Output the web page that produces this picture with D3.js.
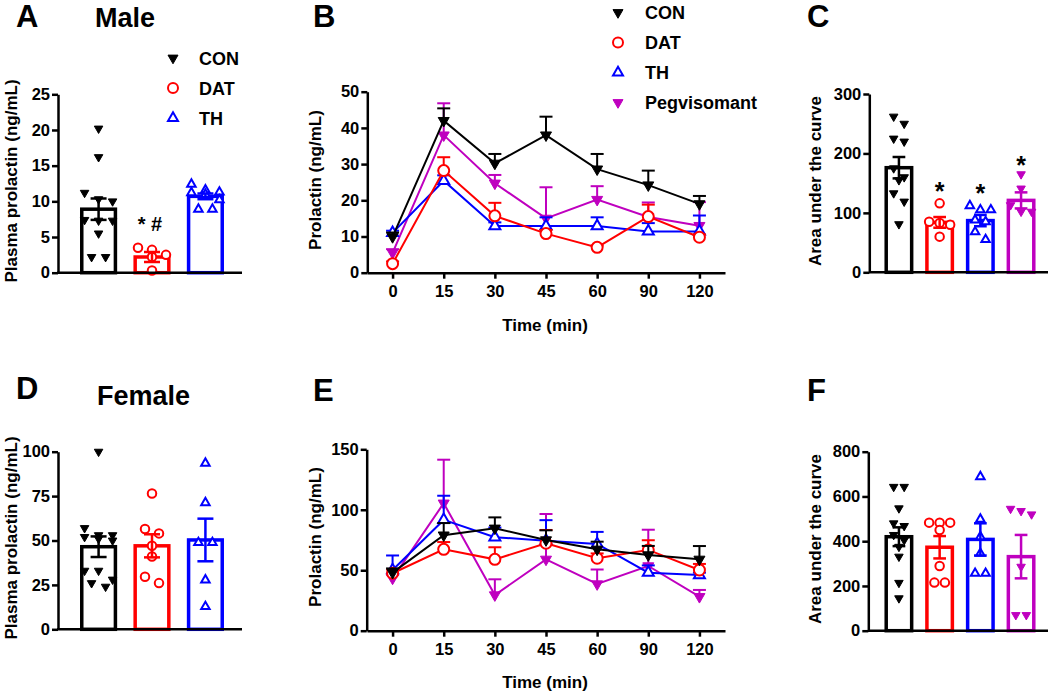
<!DOCTYPE html>
<html><head><meta charset="utf-8">
<script src="https://cdn.jsdelivr.net/npm/d3@7"></script>
<style>body{margin:0;background:#fff;} svg{display:block;}</style>
</head><body><svg id="c" width="1050" height="691"></svg>
<script>
// ---------- data ----------
const groups3 = ["CON", "DAT", "TH"];
const groups4 = ["CON", "DAT", "TH", "Pegvisomant"];
const times = ["0", "15", "30", "45", "60", "90", "120"];

// Panel A (male plasma prolactin)
const aCON = [20.2, 16.2, 11.2, 10.3, 10.0, 7.4, 7.3, 7.3, 5.5, 2.2, 2.2];
const aDAT = [3.5, 3.2, 2.5, 2.2, 0.3];
const aTH = [12.4, 11.6, 11.3, 11.2, 11.0, 10.2, 8.9, 8.9];
const aMean = [8.9, 2.2, 10.7];
const aSem = [1.5, 0.7, 0.4];
const aTicks = [0, 5, 10, 15, 20, 25];

// Panel B (male time course)
const bCON = [9.9, 42, 30.2, 38, 28.6, 24.2, 19];
const bDAT = [2.5, 28.2, 15.7, 10.8, 7, 15.5, 9.8];
const bTH = [11, 25.4, 12.9, 12.9, 12.9, 11.4, 11.4];
const bPEG = [5.5, 38, 24.7, 15, 20.2, 15.4, 13];
const bCONsem = [1.2, 3.4, 2.6, 5.1, 4.2, 4, 2.2];
const bDATsem = [0.6, 3.7, 3.6, 1, 0.5, 3.3, 0.8];
const bTHsem = [0.6, 1.5, 1, 2.4, 2.4, 2.3, 4.4];
const bPEGsem = [1, 8.8, 2.3, 8.6, 3.7, 4, 6.5];
const bTicks = [0, 10, 20, 30, 40, 50];

// Panel C (male AUC)
const cCON = [262, 250, 225, 220, 175, 160, 155, 133, 119, 81];
const cDAT = [116, 85, 83, 80, 60];
const cTH = [112, 105, 105, 88, 85, 68, 55];
const cPEG = [165, 141, 113, 102, 102];
const cMean = [176, 84, 87, 121];
const cSem = [18, 9, 9.5, 13.5];
const cTicks = [0, 100, 200, 300];

// Panel D (female plasma prolactin)
const dCON = [100, 57, 53, 53, 52, 51, 50, 33, 33, 28, 26, 24];
const dDAT = [76.5, 56.5, 54, 47, 41, 29.6, 26];
const dTH = [93.5, 71.3, 48.8, 48.8, 27.8, 12.8];
const dMean = [46.5, 47, 50.3];
const dSem = [5.8, 6.5, 12];
const dTicks = [0, 25, 50, 75, 100];

// Panel E (female time course)
const eCON = [48, 79, 84.7, 75, 67.3, 62.6, 59];
const eDAT = [47.5, 67.3, 59, 72.3, 59.9, 66.8, 50.2];
const eTH = [50.2, 91.6, 77.3, 74.4, 71.7, 48, 46];
const ePEG = [43.3, 105.4, 29.5, 59, 38.6, 53.5, 28.1];
const eCONsem = [3.5, 10, 9, 8, 6.3, 7.5, 11];
const eDATsem = [3, 6, 10, 11, 4, 8, 5];
const eTHsem = [12, 20, 8, 17, 10, 6, 2];
const ePEGsem = [3, 36, 13, 37.5, 12, 30, 5.6];
const eTicks = [0, 50, 100, 150];

// Panel F (female AUC)
const fCON = [643, 643, 547, 480, 468, 428, 405, 375, 331, 214, 145];
const fDAT = [483, 483, 483, 450, 289, 215, 215];
const fTH = [688, 498, 420, 346, 256, 256];
const fPEG = [545, 535, 520, 286, 70, 70];
const fMean = [420, 373, 408, 331];
const fSem = [42, 50, 72, 97];
const fTicks = [0, 200, 400, 600, 800];

// ---------- style ----------
const FONT = '"Liberation Sans", Arial, Helvetica, sans-serif';
const colors = {CON: "#000000", DAT: "#ff0000", TH: "#0000ff", Pegvisomant: "#bf00bf"};
const shapes = {CON: "down", DAT: "circle", TH: "up", Pegvisomant: "down"};
const filled = {CON: true, DAT: false, TH: false, Pegvisomant: true};

const svg = d3.select("#c");

function marker(g, name, x, y, sz) {
  const c = colors[name];
  if (shapes[name] === "circle") {
    g.append("circle").attr("cx", x).attr("cy", y).attr("r", sz * 0.5)
      .attr("fill", "#fff").attr("stroke", c).attr("stroke-width", 2);
  } else {
    const area = Math.sqrt(3) / 4 * sz * sz;
    g.append("path").attr("d", d3.symbol(d3.symbolTriangle, area)())
      .attr("transform", `translate(${x},${y}) rotate(${shapes[name] === "down" ? 180 : 0})`)
      .attr("fill", filled[name] ? c : "#fff").attr("stroke", c)
      .attr("stroke-width", filled[name] ? 1 : 2).attr("stroke-linejoin", "miter");
  }
}

function styleAxis(g) {
  g.selectAll("path,line").attr("stroke", "#000").attr("stroke-width", 2.5);
  g.selectAll("text").attr("font-size", 16.5).attr("font-weight", "bold")
    .attr("font-family", FONT).attr("fill", "#000");
}

function text(x, y, s, size, opts = {}) {
  const t = svg.append("text").attr("x", x).attr("y", y).text(s)
    .attr("font-family", FONT).attr("font-weight", "bold").attr("font-size", size).attr("fill", opts.fill || "#000");
  if (opts.anchor) t.attr("text-anchor", opts.anchor);
  if (opts.rotate) t.attr("transform", `rotate(-90,${x},${y})`).attr("dominant-baseline", "central").attr("text-anchor", "middle");
  return t;
}

function swarm(vals, y, cx, spacing, thresh) {
  const sorted = vals.map(v => ({v, py: y(v)})).sort((a, b) => a.py - b.py);
  const rows = []; let cur = [];
  sorted.forEach(p => {
    if (cur.length && (p.py - cur[0].py > thresh || cur.length >= 3)) { rows.push(cur); cur = []; }
    cur.push(p);
  });
  if (cur.length) rows.push(cur);
  const out = [];
  rows.forEach(r => r.forEach((p, k) => out.push({x: cx + (k - (r.length - 1) / 2) * spacing, y: p.py})));
  return out;
}

function barPanel(cfg) {
  const {groups, points, mean, sem, y, ticks, axisX, xr, band, msz, spacing} = cfg;
  const x = d3.scaleBand().domain(groups).range(band.range).paddingInner(band.pi).paddingOuter(band.po);
  const bw = x.bandwidth();
  const g = svg.append("g");
  groups.forEach((name, i) => {
    const c = colors[name];
    g.append("rect").attr("x", x(name)).attr("y", y(mean[i])).attr("width", bw)
      .attr("height", y(0) - y(mean[i])).attr("fill", "#fff").attr("stroke", c).attr("stroke-width", 3.5);
  });
  groups.forEach((name, i) => {
    const cx = x(name) + bw / 2;
    swarm(points[i], y, cx, spacing, 9).forEach(p => marker(g, name, p.x, p.y, msz));
  });
  groups.forEach((name, i) => {
    const c = colors[name];
    const cx = x(name) + bw / 2;
    const capW = Math.min(16, bw * 0.5);
    const y1 = y(mean[i] - sem[i]), y2 = y(mean[i] + sem[i]);
    g.append("line").attr("x1", cx).attr("x2", cx).attr("y1", y1).attr("y2", y2).attr("stroke", c).attr("stroke-width", 2.5);
    [y1, y2].forEach(yy => g.append("line").attr("x1", cx - capW / 2).attr("x2", cx + capW / 2)
      .attr("y1", yy).attr("y2", yy).attr("stroke", c).attr("stroke-width", 2.5));
  });
  svg.append("line").attr("x1", xr[0]).attr("x2", xr[1]).attr("y1", y(0)).attr("y2", y(0))
    .attr("stroke", "#000").attr("stroke-width", 2.5);
  const ax = svg.append("g").attr("transform", `translate(${axisX},0)`)
    .call(d3.axisLeft(y).tickValues(ticks).tickSize(6).tickSizeOuter(0).tickPadding(2));
  styleAxis(ax);
  return x;
}

function linePanel(cfg) {
  const {series, y, ticks, axisX} = cfg;
  const x = d3.scalePoint().domain(times).range([367, 725]).padding(0.5);
  const g = svg.append("g");
  const line = d3.line().x((d, i) => x(times[i])).y(d => y(d));
  series.forEach(s => {
    const c = colors[s.name];
    g.append("path").attr("d", line(s.mean)).attr("fill", "none").attr("stroke", c).attr("stroke-width", 2);
    s.mean.forEach((m, i) => {
      const cx = x(times[i]);
      const yt = y(m + s.sem[i]);
      g.append("line").attr("x1", cx).attr("x2", cx).attr("y1", y(m)).attr("y2", yt).attr("stroke", c).attr("stroke-width", 2);
      g.append("line").attr("x1", cx - 6.5).attr("x2", cx + 6.5).attr("y1", yt).attr("y2", yt).attr("stroke", c).attr("stroke-width", 2);
    });
    s.mean.forEach((m, i) => marker(g, s.name, x(times[i]), y(m), 11));
  });
  const axB = svg.append("g").attr("transform", `translate(0,${y(0)})`)
    .call(d3.axisBottom(x).tickSize(6).tickSizeOuter(0).tickPadding(7));
  styleAxis(axB);
  const axL = svg.append("g").attr("transform", `translate(${axisX},0)`)
    .call(d3.axisLeft(y).tickValues(ticks).tickSize(6).tickSizeOuter(0).tickPadding(2));
  styleAxis(axL);
}

// ---------- Panel A ----------
const yA = d3.scaleLinear().domain([0, 25]).range([272.7, 94.3]);
barPanel({groups: groups3, points: [aCON, aDAT, aTH], mean: aMean, sem: aSem, y: yA, ticks: aTicks,
  axisX: 58, xr: [57, 242], band: {range: [62, 242], pi: 0.37, po: 0.37}, msz: 8.5, spacing: 14});
text(150, 231, "* #", 20, {anchor: "middle"});
text(11, 181, "Plasma prolactin (ng/mL)", 17, {rotate: true});
text(16, 27, "A", 31);
text(95, 27, "Male", 27);
groups3.forEach((name, i) => {
  const ly = 58 + i * 30;
  marker(svg, name, 173, ly, 10);
  text(199, ly + 6.5, name, 18);
});

// ---------- Panel B ----------
const yB = d3.scaleLinear().domain([0, 50]).range([272.7, 91.7]);
linePanel({y: yB, ticks: bTicks, axisX: 367.3, series: [
  {name: "Pegvisomant", mean: bPEG, sem: bPEGsem},
  {name: "TH", mean: bTH, sem: bTHsem},
  {name: "DAT", mean: bDAT, sem: bDATsem},
  {name: "CON", mean: bCON, sem: bCONsem}]});
text(315, 180, "Prolactin (ng/mL)", 17, {rotate: true});
text(545, 331, "Time (min)", 17, {anchor: "middle"});
text(313, 27, "B", 31);
groups4.forEach((name, i) => {
  const ly = 12.5 + i * 30;
  marker(svg, name, 618, ly, 10);
  text(645, ly + 6.5, name, 18);
});

// ---------- Panel C ----------
const yC = d3.scaleLinear().domain([0, 300]).range([272.3, 94]);
const xC = barPanel({groups: groups4, points: [cCON, cDAT, cTH, cPEG], mean: cMean, sem: cSem, y: yC, ticks: cTicks,
  axisX: 869.3, xr: [869, 1048], band: {range: [874, 1046], pi: 0.375, po: 0.3}, msz: 8.5, spacing: 10.5});
[[1, 187], [2, 189], [3, 161]].forEach(([i, cy]) => {
  text(xC(groups4[i]) + xC.bandwidth() / 2, cy + 13, "*", 25, {anchor: "middle"});
});
text(815, 181, "Area under the curve", 17, {rotate: true});
text(807, 27, "C", 31);

// ---------- Panel D ----------
const yD = d3.scaleLinear().domain([0, 100]).range([629.3, 451.7]);
barPanel({groups: groups3, points: [dCON, dDAT, dTH], mean: dMean, sem: dSem, y: yD, ticks: dTicks,
  axisX: 58, xr: [57, 242], band: {range: [62, 242], pi: 0.37, po: 0.37}, msz: 8.5, spacing: 14});
text(11, 538, "Plasma prolactin (ng/mL)", 17, {rotate: true});
text(16, 399, "D", 31);
text(97, 405, "Female", 27);

// ---------- Panel E ----------
const yE = d3.scaleLinear().domain([0, 150]).range([630.7, 449.3]);
linePanel({y: yE, ticks: eTicks, axisX: 366.7, series: [
  {name: "Pegvisomant", mean: ePEG, sem: ePEGsem},
  {name: "TH", mean: eTH, sem: eTHsem},
  {name: "DAT", mean: eDAT, sem: eDATsem},
  {name: "CON", mean: eCON, sem: eCONsem}]});
text(315, 537, "Prolactin (ng/mL)", 17, {rotate: true});
text(545, 688, "Time (min)", 17, {anchor: "middle"});
text(313, 401, "E", 31);

// ---------- Panel F ----------
const yF = d3.scaleLinear().domain([0, 800]).range([630.7, 451.7]);
barPanel({groups: groups4, points: [fCON, fDAT, fTH, fPEG], mean: fMean, sem: fSem, y: yF, ticks: fTicks,
  axisX: 868.3, xr: [868, 1048], band: {range: [874, 1046], pi: 0.375, po: 0.3}, msz: 8.5, spacing: 10.5});
text(815, 539, "Area under the curve", 17, {rotate: true});
text(807, 401, "F", 31);
</script>
</body></html>
